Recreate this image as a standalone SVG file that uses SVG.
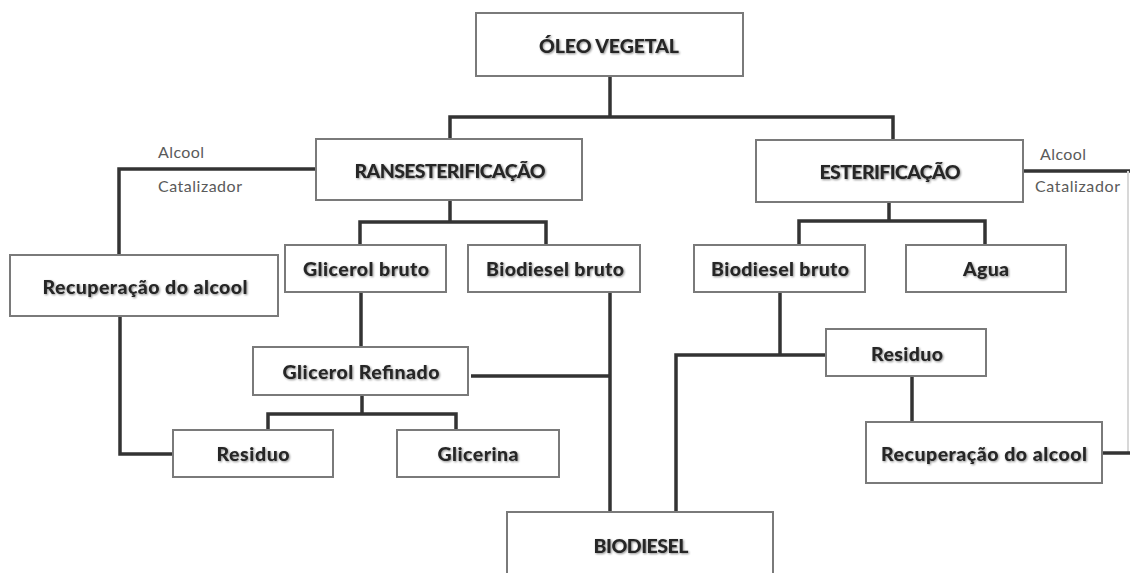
<svg xmlns="http://www.w3.org/2000/svg" width="1130" height="573" viewBox="0 0 1130 573">
<defs>
<filter id="sh" x="-10%" y="-30%" width="120%" height="160%">
<feGaussianBlur in="SourceAlpha" stdDeviation="1.2"/>
<feOffset dx="0.8" dy="1" result="b"/>
<feComponentTransfer><feFuncA type="linear" slope="0.45"/></feComponentTransfer>
<feMerge><feMergeNode/><feMergeNode in="SourceGraphic"/></feMerge>
</filter>
</defs>
<style>
.box{fill:#fff;stroke:#7a7a7a;stroke-width:2}
.t{font-family:Lato,"Open Sans","Liberation Sans",sans-serif;font-weight:900;font-size:19.5px;fill:#262626;text-anchor:middle;filter:url(#sh)}
.s{font-family:Lato,"Open Sans","Liberation Sans",sans-serif;font-size:16px;fill:#5a5a5a}
.c{fill:none;stroke:#333;stroke-width:3.5;stroke-linejoin:miter}
</style>
<rect width="1130" height="573" fill="#fff"/>
<g id="connectors">
<path class="c" d="M610 76V117M450 139V117H893V140"/>
<path class="c" d="M316 169H119V255"/>
<path class="c" d="M1023 171H1130"/>
<path d="M1128 171V453" fill="none" stroke="#d8d8d8" stroke-width="2"/>
<path class="c" d="M450 200V222M360 245V222H546V245"/>
<path class="c" d="M889 202V221M799 245V221H985V245"/>
<path class="c" d="M361 292V347"/>
<path class="c" d="M362 395V414M268 430V414H456V430"/>
<path class="c" d="M120 316V454H173"/>
<path class="c" d="M471 376H610M610 292V512"/>
<path class="c" d="M780 292V355M826 355H676V512"/>
<path class="c" d="M912 376V422"/>
<path class="c" d="M1102 453H1130"/>
</g>
<g id="oleo"><rect class="box" x="476" y="13" width="267" height="63"/><text class="t" x="609" y="53" textLength="140">ÓLEO VEGETAL</text></g>
<g id="trans"><rect class="box" x="316" y="139" width="266" height="61"/><text class="t" x="450" y="178" textLength="191">RANSESTERIFICAÇÃO</text></g>
<g id="ester"><rect class="box" x="756" y="140" width="267" height="62"/><text class="t" x="890" y="179" textLength="141">ESTERIFICAÇÃO</text></g>
<g id="lbl-left"><text class="s" x="158" y="158" textLength="46">Alcool</text><text class="s" x="158" y="192" textLength="84">Catalizador</text></g>
<g id="lbl-right"><text class="s" x="1040" y="160" textLength="46">Alcool</text><text class="s" x="1035" y="192" textLength="85">Catalizador</text></g>
<g id="recup1"><rect class="box" x="10" y="255" width="268" height="61"/><text class="t" x="145" y="294" textLength="205">Recuperação do alcool</text></g>
<g id="glicbruto"><rect class="box" x="285" y="245" width="161" height="47"/><text class="t" x="366" y="276" textLength="126">Glicerol bruto</text></g>
<g id="biobruto1"><rect class="box" x="468" y="245" width="172" height="47"/><text class="t" x="555" y="276" textLength="138">Biodiesel bruto</text></g>
<g id="biobruto2"><rect class="box" x="694" y="245" width="171" height="47"/><text class="t" x="780" y="276" textLength="138">Biodiesel bruto</text></g>
<g id="agua"><rect class="box" x="906" y="245" width="160" height="47"/><text class="t" x="986" y="276" textLength="46">Agua</text></g>
<g id="glicref"><rect class="box" x="253" y="347" width="215" height="48"/><text class="t" x="361" y="379" textLength="157">Glicerol Refinado</text></g>
<g id="residuo1"><rect class="box" x="173" y="430" width="160" height="47"/><text class="t" x="253" y="461" textLength="73">Residuo</text></g>
<g id="glicerina"><rect class="box" x="397" y="430" width="162" height="47"/><text class="t" x="478" y="461" textLength="81">Glicerina</text></g>
<g id="residuo2"><rect class="box" x="826" y="329" width="160" height="47"/><text class="t" x="907" y="361" textLength="72">Residuo</text></g>
<g id="recup2"><rect class="box" x="866" y="422" width="236" height="61"/><text class="t" x="984" y="461" textLength="206">Recuperação do alcool</text></g>
<g id="biodiesel"><rect class="box" x="507" y="512" width="266" height="70"/><text class="t" x="641" y="553" textLength="95">BIODIESEL</text></g>
</svg>
